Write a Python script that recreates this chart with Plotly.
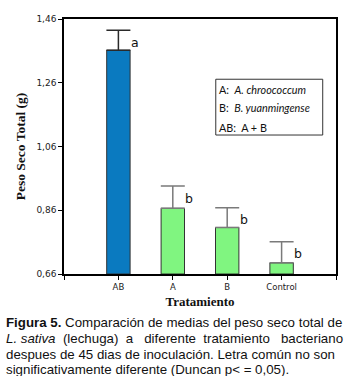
import plotly.graph_objects as go

categories = ["AB", "A", "B", "Control"]
means = [1.362, 0.866, 0.806, 0.695]
errors = [0.063, 0.070, 0.062, 0.066]
letters = ["a", "b", "b", "b"]
bar_colors = ["#0A7AC0", "#80F580", "#80F580", "#80F580"]
err_colors = ["#2a2a2a", "#7a7a7a", "#7a7a7a", "#7a7a7a"]
y_ticks = [0.66, 0.86, 1.06, 1.26, 1.46]
legend_lines = ["A:  <i>A. chroococcum</i>", "B:  <i>B. yuanmingense</i>", "AB:  A + B"]
caption_lines = [
    "<b>Figura 5.</b> Comparación de medias del peso seco total de",
    "<i>L. sativa</i>\u00a0 (lechuga)\u00a0 a\u00a0\u00a0 diferente\u00a0 tratamiento\u00a0\u00a0 bacteriano",
    "despues de 45 dias de inoculación. Letra común no son",
    "significativamente diferente (Duncan p< = 0,05).",
]

W, H = 353, 376
ml, mr, mt, mb = 64, 17, 19, 102
pw, ph = W - ml - mr, H - mt - mb

xs = list(range(len(categories)))
fig = go.Figure()
for i, (c, m, e) in enumerate(zip(categories, means, errors)):
    fig.add_trace(go.Bar(
        x=[xs[i]], y=[m - 0.66], base=0.66, width=0.43,
        marker=dict(color=bar_colors[i], line=dict(color="#333333", width=1)),
        error_y=dict(type="data", array=[e], symmetric=False, arrayminus=[0],
                     color=err_colors[i], thickness=1.5, width=12),
        showlegend=False, hoverinfo="skip",
    ))

annotations = []
for i, (m, e, l) in enumerate(zip(means, errors, letters)):
    annotations.append(dict(x=xs[i] + 0.3, y=m + e, xref="x", yref="y", text=l,
                            showarrow=False, xanchor="center", yanchor="middle", yshift=-12,
                            font=dict(family="DejaVu Sans", size=12.5, color="#111")))

# legend box
fig.add_shape(type="rect", xref="x", yref="y", x0=1.79, x1=3.756, y0=1.096, y1=1.271,
              line=dict(color="#333", width=1), fillcolor="white")
for t, yy in zip(legend_lines, [89, 107, 127]):
    annotations.append(dict(x=1.81, y=0.66 + (274 - yy) / 318.75, xref="x", yref="y", text=t,
                            showarrow=False, xanchor="left", yanchor="middle",
                            font=dict(family="Lato", size=10.8, color="#111")))

for t, yy in zip(caption_lines, [322, 338, 354, 369]):
    annotations.append(dict(x=(4 - ml) / pw, y=1 - (yy - mt) / ph, xref="paper", yref="paper",
                            text=t, showarrow=False, xanchor="left", yanchor="middle",
                            font=dict(family="Liberation Sans", size=13.3, color="#111")))

fig.update_layout(
    width=W, height=H, margin=dict(l=ml, r=mr, t=mt, b=mb),
    plot_bgcolor="white", paper_bgcolor="white", separators=",.",
    barmode="overlay", annotations=annotations,
    xaxis=dict(range=[-1, 4], tickvals=[-1] + xs + [4], ticktext=[""] + categories + [""],
               showline=True, linecolor="black", linewidth=1.5, mirror=True,
               ticks="outside", ticklen=4, tickcolor="black", showgrid=False, zeroline=False,
               tickfont=dict(family="DejaVu Sans", size=8.5, color="#222"),
               title=dict(text="<b>Tratamiento</b>", standoff=6,
                          font=dict(family="Liberation Serif", size=13, color="#111"))),
    yaxis=dict(range=[0.66, 1.46], tickvals=y_ticks, tickformat=".2f",
               showline=True, linecolor="black", linewidth=1.5, mirror=True,
               ticks="outside", ticklen=4, tickcolor="black", showgrid=False, zeroline=False,
               tickfont=dict(family="DejaVu Sans", size=9, color="#222"),
               title=dict(text="<b>Peso Seco Total (g)</b>", standoff=8,
                          font=dict(family="Liberation Serif", size=13.5, color="#111"))),
)
fig.write_html("out.html", config={"displayModeBar": False},
               post_script="document.body.style.margin='0px';")
